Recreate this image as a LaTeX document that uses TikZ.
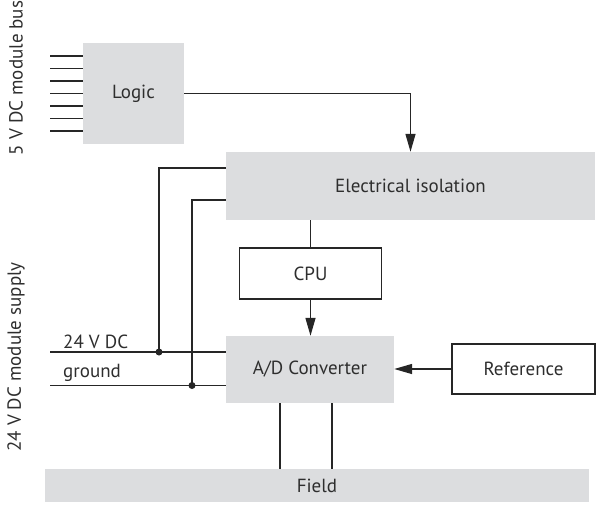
\documentclass[tikz,border=0pt]{standalone}
\usepackage{fontspec}
\setmainfont{PT Sans}
\usetikzlibrary{arrows.meta,positioning,calc}
\definecolor{blokkszurke}{HTML}{DCDDDF}
\definecolor{felirat}{HTML}{2E2E2E}
\tikzset{
  blk/.style={fill=blokkszurke,inner sep=0pt,align=center,text=felirat},
  frame/.style={draw=black!85,line width=1.4pt,fill=white,inner sep=0pt,text=felirat},
  wire/.style={line width=1.4pt,draw=black!85},
  arr/.style={wire,-{Triangle[length=18pt,width=10pt]}},
  jdot/.style={circle,fill=black!85,inner sep=0pt,minimum size=7pt},
  lbl/.style={text=felirat,inner sep=0pt},
}

\begin{document}
\begin{tikzpicture}[x=1pt,y=-1pt,font=\fontsize{19}{22}\selectfont]
  \useasboundingbox (0,0) rectangle (597,504);
  % blocks
  \node[blk,minimum width=101pt,minimum height=101pt] (logic) at (133.5,93.5) {Logic};
  \node[blk,minimum width=369pt,minimum height=68pt] (iso) at (410.5,186) {Electrical isolation};
  \node[frame,minimum width=142pt,minimum height=51pt] (cpu) at (310.5,273.5) {CPU};
  \node[blk,minimum width=168pt,minimum height=67pt] (adc) at (310,369.5) {A/D Converter};
  \node[frame,minimum width=143pt,minimum height=50pt] (ref) at (523.5,369) {Reference};
  \node[blk,minimum width=544pt,minimum height=33pt] (field) at (317,485.5) {Field};
  % module bus
  \foreach \i in {0,...,6}
    \coordinate (bus\i) at (50,{56+12.5*\i});
  \foreach \i in {0,...,6}
    \draw[wire] (bus\i) -- (bus\i -| logic.west);
  \draw[arr] (logic.east) -| (iso.north);
  \draw[wire] (iso.south -| cpu.north) -- (cpu.north);
  \draw[arr] (cpu.south) -- (cpu.south |- adc.north);
  \draw[arr] (ref.west) -- (ref.west -| adc.east);
  % supply
  \coordinate (vdc) at (50,352);
  \coordinate (gnd) at (50,385.5);
  \coordinate (j1) at (159,352);
  \coordinate (j2) at (192,385.5);
  \draw[wire] (vdc) -- (vdc -| adc.west);
  \draw[wire] (gnd) -- (gnd -| adc.west);
  \draw[wire] ([yshift=18pt]iso.west) -| (j1);
  \draw[wire] ([yshift=-14pt]iso.west) -| (j2);
  \node[jdot] (d1) at (j1) {};
  \node[jdot] (d2) at (j2) {};
  \draw[wire] ([xshift=-30pt]adc.south) -- ([xshift=-30pt]adc.south |- field.north);
  \draw[wire] ([xshift=22pt]adc.south) -- ([xshift=22pt]adc.south |- field.north);
  % labels
  \node[lbl,anchor=base west] (vdclbl) at (63,348) {24 V DC};
  \node[lbl,anchor=base west] (gndlbl) at (63,377) {ground};
  \node[lbl,rotate=90] (buslbl) at (16,78) {5 V DC module bus};
  \node[lbl,rotate=90] (suplbl) at (16,357) {24 V DC module supply};
\end{tikzpicture}
\end{document}
